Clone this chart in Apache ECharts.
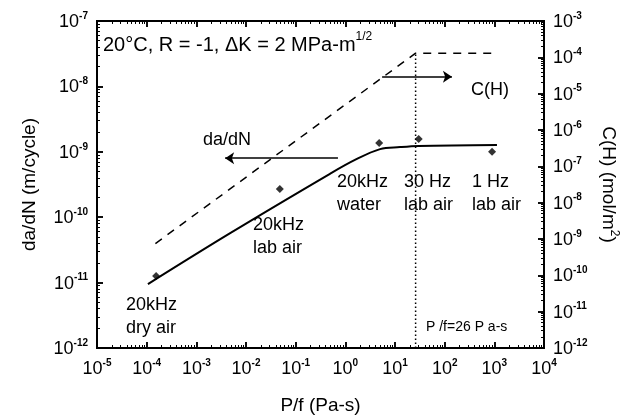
<!DOCTYPE html>
<html>
<head>
<meta charset="utf-8">
<script src="https://cdn.jsdelivr.net/npm/echarts@6/dist/echarts.min.js"></script>
<style>
  html, body { margin: 0; padding: 0; background: #fff; }
  #chart, #frame { position: absolute; left: 0; top: 0; width: 630px; height: 419px; }
  #frame { pointer-events: none; }
</style>
</head>
<body>
<div id="chart"></div>
<div id="frame"></div>
<script>
const FONT = '"Liberation Sans", Arial, Helvetica, sans-serif';

// Measured crack growth rate vs. pressure/frequency
const testNames = ['20kHz\ndry air', '20kHz\nlab air', '20kHz\nwater', '30 Hz\nlab air', '1 Hz\nlab air'];
const pfMeasured = [1.55e-4, 0.048, 4.8, 30, 900];
const dadnMeasured = [1.26e-11, 2.7e-10, 1.36e-9, 1.57e-9, 1.0e-9];

// Fitted da/dN trend (solid curve)
const pfTrend = [1.06e-4, 4.8e-3, 0.49, 1.56, 5.0, 12.6, 30, 1130];
const dadnTrend = [9.5e-12, 5.7e-11, 4.6e-10, 7.5e-10, 1.10e-9, 1.18e-9, 1.23e-9, 1.27e-9];

// Surface hydrogen coverage C(H) (dashed curve, right axis)
const pfCH = [1.5e-4, 26, 900];
const cH = [7.5e-10, 1.3e-4, 1.3e-4];

// Saturation exposure
const pfSaturation = 26;

// Axis ranges (decade exponents)
const xDecades = [-5, 4];
const yLeftDecades = [-12, -7];
const yRightDecades = [-12, -3];

// Direction arrows: [from, to] in data units
const dadnArrow = [[0.71, 8.0e-10], [3.8e-3, 8.0e-10]];
const chArrow = [[5.5, 2.9e-5], [140, 2.9e-5]];

// Screen placement of the text annotations
const nameSpots = [[126, 305], [253, 225], [337, 182], [404, 182], [472, 182]];

const pairs = (xs, ys) => xs.map((x, i) => [x, ys[i]]);

const supRich = {
  b: { fontFamily: FONT, fontSize: 18, color: '#000', lineHeight: 20, verticalAlign: 'bottom' },
  s: { fontFamily: FONT, fontSize: 10, fontWeight: 'bold', color: '#000', lineHeight: 10, verticalAlign: 'top' }
};
const powLabel = v => '{b|10}{s|' + Math.round(Math.log10(v)) + '}';

const GRID = { left: 97, right: 86, top: 21, bottom: 71, outerBoundsMode: 'none' };

const axisLine = () => ({ show: true, lineStyle: { color: '#000', width: 2 } });
const majorTick = () => ({ show: true, inside: true, length: 6, lineStyle: { color: '#000', width: 1.5 } });
const minorTick = () => ({ show: true, splitNumber: 9, length: 3, lineStyle: { color: '#000', width: 1 } });

function logAxis(decades, position, extra) {
  return Object.assign({
    type: 'log', logBase: 10, position,
    min: Math.pow(10, decades[0]), max: Math.pow(10, decades[1]), interval: 1,
    axisLine: axisLine(), axisTick: majorTick(), minorTick: minorTick(),
    splitLine: { show: false }, minorSplitLine: { show: false }
  }, extra);
}

const labelText = [];
testNames.forEach((name, i) => {
  name.split('\n').forEach((line, j) => {
    labelText.push({
      type: 'text',
      x: nameSpots[i][0],
      y: nameSpots[i][1] + j * 23,
      silent: true,
      style: { text: line, font: '18px ' + FONT, fill: '#000', textAlign: 'left', textVerticalAlign: 'middle' }
    });
  });
});

// Main plot: curves, points, annotations, tick labels and axis titles
const chart = echarts.init(document.getElementById('chart'));
chart.setOption({
  animation: false,
  grid: GRID,
  xAxis: [
    logAxis(xDecades, 'bottom', {
      axisLabel: { formatter: powLabel, rich: supRich, margin: 10 },
      name: 'P/f (Pa-s)', nameLocation: 'middle', nameGap: 48,
      nameTextStyle: { fontFamily: FONT, fontSize: 19, color: '#000' }
    }),
    logAxis(xDecades, 'top', { axisLabel: { show: false } })
  ],
  yAxis: [
    logAxis(yLeftDecades, 'left', {
      axisLabel: { formatter: powLabel, rich: supRich, margin: 9 },
      name: 'da/dN (m/cycle)', nameLocation: 'middle', nameGap: 58, nameRotate: 90,
      nameTextStyle: { fontFamily: FONT, fontSize: 19, color: '#000' }
    }),
    logAxis(yRightDecades, 'right', {
      axisLabel: { formatter: powLabel, rich: supRich, margin: 9 },
      name: '{a|C(H) (mol/m}{s|2}{a|)}', nameLocation: 'middle', nameGap: 52, nameRotate: -90,
      nameTextStyle: {
        color: '#000',
        rich: {
          a: { fontFamily: FONT, fontSize: 19, color: '#000', lineHeight: 22, verticalAlign: 'bottom' },
          s: { fontFamily: FONT, fontSize: 12, color: '#000', lineHeight: 12, verticalAlign: 'top' }
        }
      }
    })
  ],
  graphic: [
    {
      type: 'text', x: 103, y: 43, silent: true,
      style: {
        text: '{a|20°C, R = -1, ΔK = 2 MPa-m}{s|1/2}',
        textVerticalAlign: 'middle', textAlign: 'left',
        rich: {
          a: { fontFamily: FONT, fontSize: 20, fill: '#000', color: '#000', lineHeight: 24, verticalAlign: 'bottom' },
          s: { fontFamily: FONT, fontSize: 12, fill: '#000', color: '#000', lineHeight: 12, verticalAlign: 'top' }
        }
      }
    },
    {
      type: 'text', x: 203, y: 140, silent: true,
      style: { text: 'da/dN', font: '18px ' + FONT, fill: '#000', textAlign: 'left', textVerticalAlign: 'middle' }
    },
    {
      type: 'text', x: 471, y: 90, silent: true,
      style: { text: 'C(H)', font: '18px ' + FONT, fill: '#000', textAlign: 'left', textVerticalAlign: 'middle' }
    },
    {
      type: 'text', x: 426, y: 327, silent: true,
      style: { text: 'P /f=26 P a-s', font: '14px ' + FONT, fill: '#000', textAlign: 'left', textVerticalAlign: 'middle' }
    },
    ...labelText
  ],
  series: [
    {
      name: 'da/dN trend', type: 'line', xAxisIndex: 0, yAxisIndex: 0,
      data: pairs(pfTrend, dadnTrend), smooth: 0.35, symbol: 'none',
      lineStyle: { color: '#000', width: 2 }, z: 3
    },
    {
      name: 'da/dN', type: 'scatter', xAxisIndex: 0, yAxisIndex: 0,
      data: pairs(pfMeasured, dadnMeasured), symbol: 'diamond', symbolSize: 8,
      itemStyle: { color: '#000' }, z: 4,
      markLine: {
        silent: true, symbol: ['none', 'arrow'], symbolSize: 9,
        label: { show: false },
        lineStyle: { color: '#000', width: 1.5, type: 'solid' },
        data: [[{ coord: dadnArrow[0] }, { coord: dadnArrow[1] }]]
      }
    },
    {
      name: 'C(H)', type: 'line', xAxisIndex: 0, yAxisIndex: 1,
      data: pairs(pfCH, cH), symbol: 'none',
      lineStyle: { color: '#000', width: 1.5, type: [8, 7] }, z: 3,
      markLine: {
        silent: true, symbol: ['none', 'arrow'], symbolSize: 9,
        label: { show: false },
        lineStyle: { color: '#000', width: 1.5, type: 'solid' },
        data: [[{ coord: chArrow[0] }, { coord: chArrow[1] }]]
      }
    },
    {
      name: 'saturation', type: 'line', xAxisIndex: 0, yAxisIndex: 1,
      data: [[pfSaturation, Math.pow(10, yRightDecades[0])], [pfSaturation, cH[1]]],
      symbol: 'none', lineStyle: { color: '#000', width: 1.5, type: [1.5, 2.5] }, z: 2
    }
  ]
});

// Frame layer: the same four log axes drawn with their major and minor ticks
const frame = echarts.init(document.getElementById('frame'));
frame.setOption({
  animation: false,
  grid: GRID,
  xAxis: [
    logAxis(xDecades, 'bottom', { axisLabel: { show: false } }),
    logAxis(xDecades, 'top', { axisLabel: { show: false } })
  ],
  yAxis: [
    logAxis(yLeftDecades, 'left', { axisLabel: { show: false } }),
    logAxis(yRightDecades, 'right', { axisLabel: { show: false } })
  ],
  series: []
});
</script>
</body>
</html>
